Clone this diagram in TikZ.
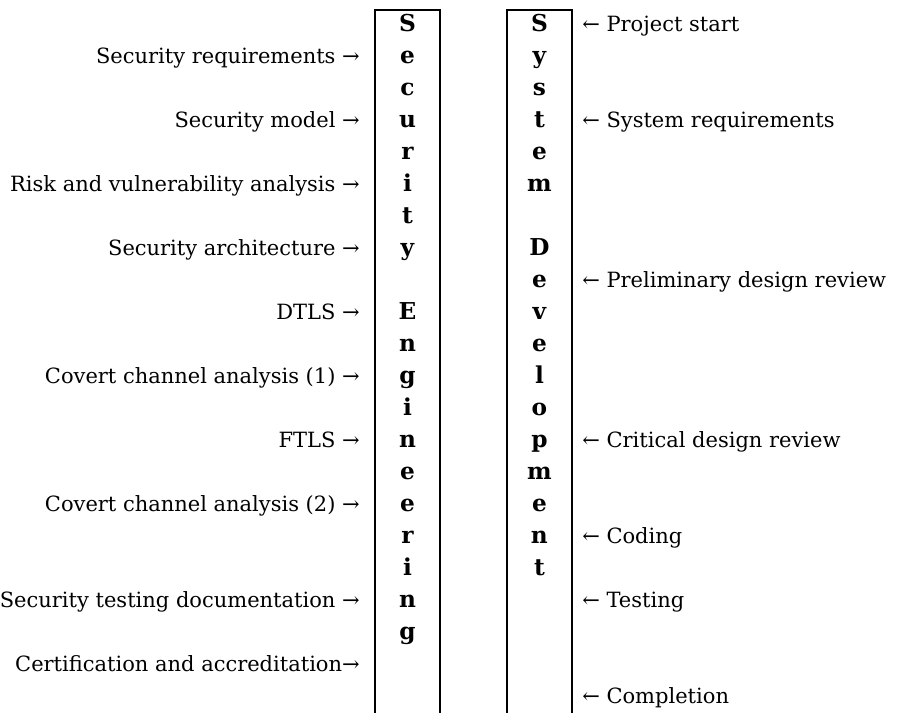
\documentclass[tikz,border=0pt]{standalone}
\usepackage{fontspec}
\setmainfont{DejaVu Serif}
\usepackage{tikz}
\usetikzlibrary{positioning}

\begin{document}
\begin{tikzpicture}[
  column/.style={draw, rectangle, line width=1.4pt, minimum width=1.72cm, minimum height=20cm, inner sep=0pt, anchor=north},
  letter/.style={font=\fontsize{17.5}{20}\selectfont\bfseries, text height=0.7em, text depth=0.06em, inner sep=0pt},
  leftlabel/.style={font=\fontsize{15.8}{19}\selectfont, text height=0.7em, text depth=0.06em, inner sep=0pt, anchor=east},
  rightlabel/.style={font=\fontsize{15.8}{19}\selectfont, text height=0.7em, text depth=0.06em, inner sep=0pt, anchor=west}]
\useasboundingbox (0,0) rectangle (23.862,-18.862);

% Two columns, open at the bottom
\node[column] (secbox) at (10.78,-0.238) {};
\node[column] (devbox) at (14.27,-0.238) {};

% Letters down the columns
\foreach \ch [count=\i from 0] in {S,e,c,u,r,i,t,y,,E,n,g,i,n,e,e,r,i,n,g}
  \node[letter] (sec\i) at (10.78,{-0.714-0.8466*\i}) {\ch};
\foreach \ch [count=\i from 0] in {S,y,s,t,e,m,,D,e,v,e,l,o,p,m,e,n,t}
  \node[letter] (dev\i) at (14.27,{-0.714-0.8466*\i}) {\ch};

% Security engineering steps
\node[leftlabel] (secreq) at (9.524,-1.561) {Security requirements →};
\node[leftlabel] (secmodel) at (9.524,-3.254) {Security model →};
\node[leftlabel] (risk) at (9.524,-4.947) {Risk and vulnerability analysis →};
\node[leftlabel] (secarch) at (9.524,-6.640) {Security architecture →};
\node[leftlabel] (dtls) at (9.524,-8.333) {DTLS →};
\node[leftlabel] (covert1) at (9.524,-10.027) {Covert channel analysis (1) →};
\node[leftlabel] (ftls) at (9.524,-11.720) {FTLS →};
\node[leftlabel] (covert2) at (9.524,-13.413) {Covert channel analysis (2) →};
\node[leftlabel] (sectest) at (9.524,-15.952) {Security testing documentation →};
\node[leftlabel] (certif) at (9.524,-17.646) {Certification and accreditation→};

% System development milestones
\node[rightlabel] (start) at (15.397,-0.714) {← Project start};
\node[rightlabel] (sysreq) at (15.397,-3.254) {← System requirements};
\node[rightlabel] (prelim) at (15.397,-7.487) {← Preliminary design review};
\node[rightlabel] (critical) at (15.397,-11.720) {← Critical design review};
\node[rightlabel] (coding) at (15.397,-14.259) {← Coding};
\node[rightlabel] (testing) at (15.397,-15.952) {← Testing};
\node[rightlabel] (complete) at (15.397,-18.492) {← Completion};
\end{tikzpicture}
\end{document}
